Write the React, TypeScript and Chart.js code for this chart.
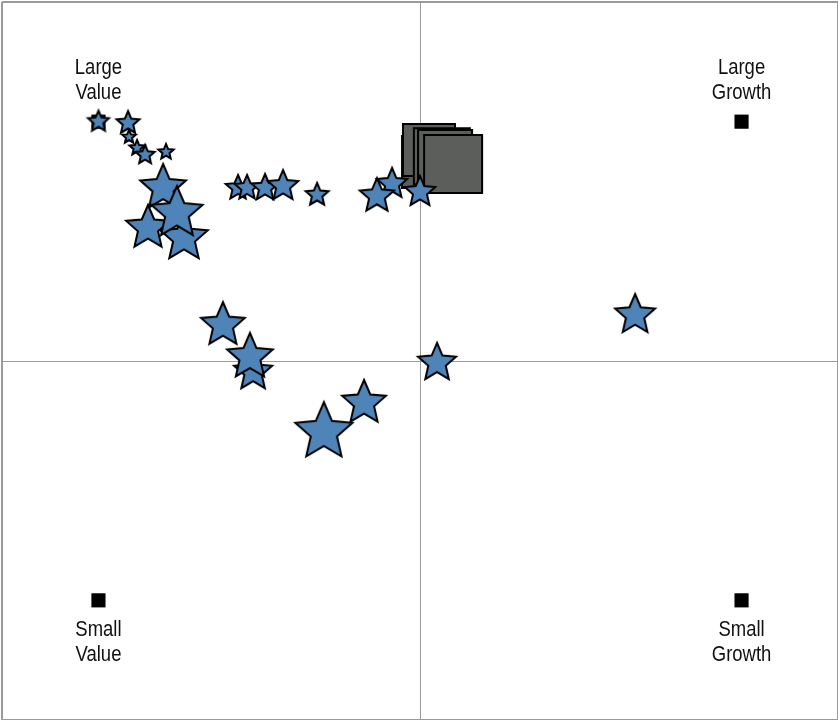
import React, { useEffect, useRef } from "react";
import { Chart, registerables } from "chart.js";

Chart.register(...registerables);

// Holdings (stars): style-box coordinates and relative size
const starX = [-100, -90.8, -90.5, -88.0, -85.5, -79.0, -79.9, -84.6, -73.4, -75.6, -56.6, -53.8, -48.2, -42.6, -32.0, -8.7, -13.4, 0.0, -61.3, -51.9, -52.9, 5.3, 66.9, -17.4, -29.9];
const starY = [100, 99.4, 93.6, 89.0, 86.1, 87.3, 72.3, 55.6, 51.4, 61.8, 72.3, 72.3, 72.3, 73.1, 69.4, 74.0, 68.9, 70.6, 15.0, -4.6, 1.7, -0.8, 19.2, -17.5, -29.7];
const starSize = [11, 12, 7, 8, 10, 8, 24, 23, 25, 27, 13, 13, 14, 16, 12, 16, 18, 16, 23, 20, 24, 20, 21, 23, 30];

// Portfolio centroids (grey squares)
const fundX = [2.5, 2.8, 6.8, 7.8, 10.3];
const fundY = [83.1, 88.2, 85.6, 85.2, 82.3];
const fundSize = [52, 52, 56, 54, 58];

// Corner reference points
const cornerX = [-100, 100, -100, 100];
const cornerY = [100, 100, -100, -100];
const cornerLine1 = ["Large", "Large", "Small", "Small"];
const cornerLine2 = ["Value", "Growth", "Value", "Growth"];

const STAR_FILL = "#4f84b8";
const FUND_FILL = "#5c5e5c";

function makeStar(r: number): HTMLCanvasElement {
  const pad = 3;
  const size = Math.ceil(2 * (r + pad));
  const c = document.createElement("canvas");
  c.width = size;
  c.height = size;
  const g = c.getContext("2d")!;
  const cx = size / 2;
  const cy = size / 2;
  const inner = r * 0.46;
  g.beginPath();
  for (let i = 0; i < 10; i++) {
    const rad = i % 2 === 0 ? r : inner;
    const a = -Math.PI / 2 + (i * Math.PI) / 5;
    const px = cx + rad * Math.cos(a);
    const py = cy + rad * Math.sin(a);
    if (i === 0) g.moveTo(px, py);
    else g.lineTo(px, py);
  }
  g.closePath();
  g.fillStyle = STAR_FILL;
  g.fill();
  g.lineWidth = 2;
  g.lineJoin = "miter";
  g.strokeStyle = "#000";
  g.stroke();
  return c;
}

const cornerLabelPlugin = {
  id: "cornerLabels",
  afterDraw(chart: any) {
    const ctx = chart.ctx;
    const xs = chart.scales.x;
    const ys = chart.scales.y;
    ctx.save();
    ctx.fillStyle = "#111";
    ctx.font = '22px "Liberation Sans", Arial, sans-serif';
    ctx.textAlign = "center";
    ctx.textBaseline = "alphabetic";
    for (let i = 0; i < cornerX.length; i++) {
      const px = xs.getPixelForValue(cornerX[i]);
      const py = ys.getPixelForValue(cornerY[i]);
      const top = cornerY[i] > 0;
      const b1 = top ? py - 48 : py + 36;
      const b2 = top ? py - 23 : py + 61;
      [[cornerLine1[i], b1], [cornerLine2[i], b2]].forEach(([t, b]) => {
        ctx.save();
        ctx.translate(px, b as number);
        ctx.scale(0.84, 1);
        ctx.fillText(t as string, 0, 0);
        ctx.restore();
      });
    }
    ctx.restore();
  },
};

export default function App() {
  const ref = useRef<HTMLCanvasElement | null>(null);
  useEffect(() => {
    document.body.style.margin = "0";
    const stars = starSize.map((s) => makeStar(s));
    const chart = new Chart(ref.current!, {
      type: "scatter",
      data: {
        datasets: [
          {
            label: "Holdings",
            data: starX.map((x, i) => ({ x, y: starY[i] })),
            pointStyle: (c: any) => stars[c.dataIndex],
            pointRadius: 10,
            backgroundColor: STAR_FILL,
            borderColor: "#000",
          },
          {
            label: "Portfolio",
            data: fundX.map((x, i) => ({ x, y: fundY[i] })),
            pointStyle: "rect",
            pointRadius: fundSize.map((s) => s / Math.SQRT2),
            backgroundColor: FUND_FILL,
            borderColor: "#000",
            borderWidth: 2,
          },
          {
            label: "Corners",
            data: cornerX.map((x, i) => ({ x, y: cornerY[i] })),
            pointStyle: "rect",
            pointRadius: 10,
            backgroundColor: "#000",
            borderColor: "#000",
            borderWidth: 0,
          },
        ],
      },
      options: {
        responsive: false,
        animation: false,
        layout: { autoPadding: false, padding: { left: 2, top: 2, right: 0, bottom: 0 } },
        plugins: { legend: { display: false }, tooltip: { enabled: false } },
        scales: {
          x: {
            type: "linear",
            min: -130,
            max: 130,
            ticks: { display: false, stepSize: 130 },
            border: { display: false },
            grid: {
              drawTicks: false,
              color: "#9a9a9a",
              lineWidth: (c: any) => (c.tick && c.tick.value === 0 ? 1 : 2),
            },
          },
          y: {
            type: "linear",
            min: -150,
            max: 150,
            ticks: { display: false, stepSize: 150 },
            border: { display: false },
            grid: {
              drawTicks: false,
              color: "#9a9a9a",
              lineWidth: (c: any) => (c.tick && c.tick.value === 0 ? 1 : 2),
            },
          },
        },
      },
      plugins: [cornerLabelPlugin],
    });
    return () => chart.destroy();
  }, []);
  return (
    <div style={{ width: 838, height: 720, background: "#fff" }}>
      <canvas ref={ref} width={838} height={720} />
    </div>
  );
}
